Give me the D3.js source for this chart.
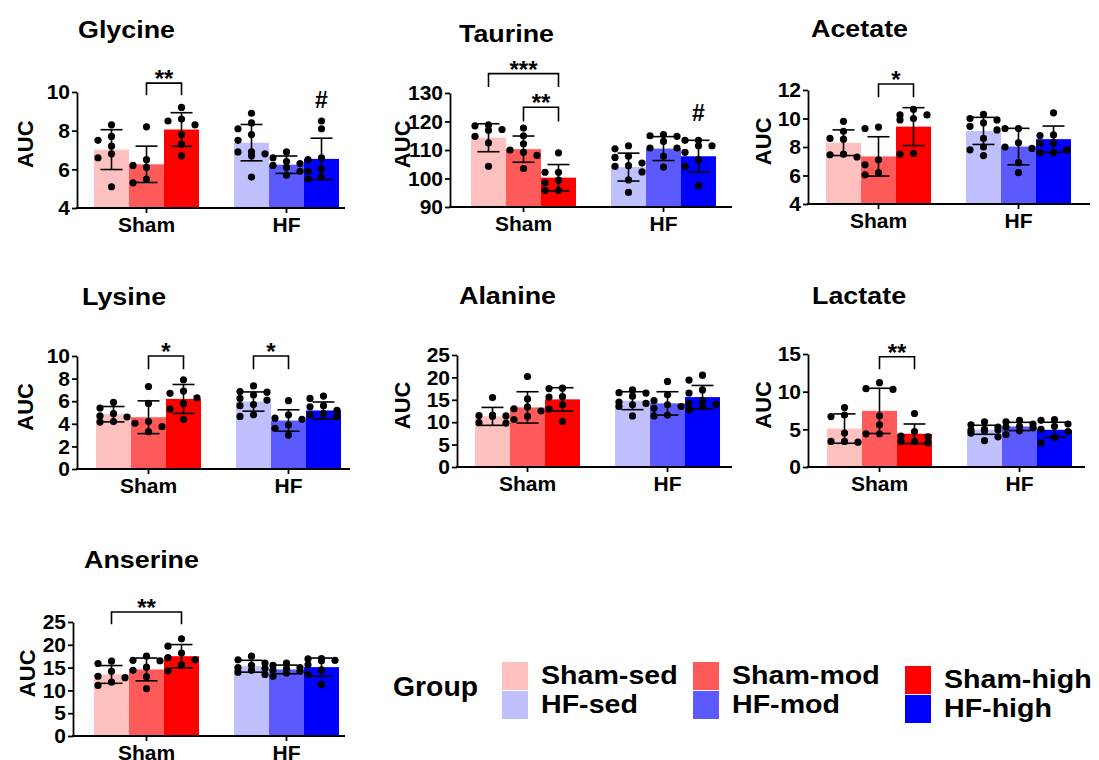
<!DOCTYPE html>
<html>
<head>
<meta charset="utf-8">
<script src="https://cdn.jsdelivr.net/npm/d3@7"></script>
<style>
body{margin:0;background:#fff}
text{font-family:"Liberation Sans",Arial,sans-serif;font-weight:bold;fill:#000}
</style>
</head>
<body>
<svg id="chart" width="1099" height="760"></svg>
<script>
// categories and groups
const categories = ["Sham", "HF"];
const groups = ["Sham-sed", "Sham-mod", "Sham-high", "HF-sed", "HF-mod", "HF-high"];
const groupColors = ["#ffc0c0", "#ff5a5a", "#ff0000", "#c0c0ff", "#5a5aff", "#0000ff"];

// Glycine
const glycineMean = [7.02, 6.26, 8.06, 7.38, 6.24, 6.54];
const glycineSD = [1.03, 0.94, 0.87, 0.94, 0.45, 1.07];
const glycinePts = [
  [8.3, 7.7, 7.5, 7.2, 6.8, 6.6, 5.1],
  [8.2, 6.5, 6.2, 6.1, 5.5, 5.3],
  [9.2, 8.6, 8.5, 8.3, 7.8, 7.3, 6.7],
  [8.9, 8.4, 8.1, 7.8, 7.5, 6.9, 6.8, 6.7, 6.9, 5.6],
  [6.9, 6.6, 6.4, 6.3, 6.2, 6.1, 5.9, 5.7],
  [8.5, 8.1, 6.6, 6.5, 6.0, 5.9, 5.6, 5.5]
];
const glycineTicks = [4, 6, 8, 10];

// Taurine
const taurineMean = [114.3, 110.3, 100.3, 104.0, 110.5, 107.8];
const taurineSD = [4.9, 4.6, 4.6, 4.9, 4.2, 5.6];
const taurinePts = [
  [118.8, 118.5, 117.2, 116.9, 114.8, 112.5, 104.3],
  [117.7, 115.0, 112.2, 109.2, 108.1, 110.0, 103.5],
  [109.0, 102.2, 102.2, 99.4, 98.5, 95.8, 95.8],
  [111.5, 110.4, 107.8, 107.4, 105.4, 104.5, 104.3, 102.3, 95.1, 99.5],
  [115.4, 115.0, 114.8, 113.0, 110.7, 110.7, 107.8, 104.0],
  [113.4, 113.4, 111.5, 111.5, 109.2, 106.6, 104.3, 97.5]
];
const taurineTicks = [90, 100, 110, 120, 130];

// Acetate
const acetateMean = [8.3, 7.34, 9.43, 9.13, 8.03, 8.55];
const acetateSD = [0.9, 1.38, 1.33, 0.95, 1.28, 0.92];
const acetatePts = [
  [9.8, 9.1, 8.6, 8.55, 7.5, 7.45, 7.3],
  [9.3, 9.4, 7.1, 6.75, 6.2, 6.05],
  [10.65, 10.25, 10.25, 10.0, 9.9, 7.55, 7.5],
  [10.3, 10.0, 9.9, 9.7, 9.45, 9.2, 8.6, 8.0, 7.8, 7.4],
  [9.3, 9.3, 8.3, 8.0, 7.9, 6.9, 6.2],
  [10.4, 8.85, 8.8, 8.3, 8.25, 7.8, 7.6, 7.6]
];
const acetateTicks = [4, 6, 8, 10, 12];

// Lysine
const lysineMean = [4.85, 4.58, 6.2, 5.97, 4.29, 5.18];
const lysineSD = [0.68, 1.45, 1.28, 0.85, 0.95, 0.75];
const lysinePts = [
  [5.9, 5.4, 4.9, 4.7, 4.6, 4.2, 4.15],
  [7.3, 5.8, 4.2, 4.05, 3.75, 3.3],
  [7.9, 6.9, 6.7, 6.3, 5.8, 5.3, 4.4],
  [7.35, 6.85, 6.8, 6.55, 6.25, 6.1, 5.7, 5.6, 4.8, 4.65],
  [6.05, 4.8, 4.5, 4.4, 3.9, 3.6, 3.0],
  [6.45, 6.25, 5.6, 5.5, 5.2, 4.9, 4.8, 4.65]
];
const lysineTicks = [0, 2, 4, 6, 8, 10];

// Alanine
const alanineMean = [11.3, 13.3, 15.1, 14.8, 14.2, 15.6];
const alanineSD = [2.0, 3.5, 2.6, 2.0, 2.6, 2.6];
const alaninePts = [
  [15.5, 11.6, 11.5, 11.4, 11.3, 9.9, 9.8],
  [20.2, 15.2, 13.4, 13.0, 12.5, 11.3, 10.6],
  [17.6, 17.5, 15.7, 15.6, 13.9, 12.9, 10.2],
  [17.2, 16.6, 16.5, 15.8, 14.5, 14.2, 13.9, 13.5, 11.4],
  [19.1, 16.1, 14.8, 13.9, 13.5, 13.1, 11.6, 11.4],
  [20.5, 19.4, 17.2, 16.5, 14.8, 14.2, 14.0, 13.5, 12.8]
];
const alanineTicks = [0, 5, 10, 15, 20, 25];

// Lactate
const lactateMean = [5.1, 7.45, 4.41, 4.94, 5.38, 4.94];
const lactateSD = [1.95, 3.0, 1.3, 0.6, 0.55, 1.0];
const lactatePts = [
  [7.9, 6.9, 6.7, 4.5, 3.4, 3.4, 3.3],
  [11.2, 10.4, 10.3, 6.8, 5.6, 4.4, 4.4],
  [7.1, 4.7, 4.1, 4.0, 3.4, 3.4, 3.2],
  [6.0, 5.6, 5.3, 5.0, 4.9, 4.9, 4.8, 4.5, 4.0, 3.5],
  [6.2, 6.0, 5.7, 5.4, 5.3, 5.2, 4.8, 4.3],
  [6.3, 6.2, 5.7, 5.4, 5.0, 4.7, 3.9, 3.2]
];
const lactateTicks = [0, 5, 10, 15];

// Anserine
const anserineMean = [13.5, 14.6, 17.5, 15.3, 14.6, 15.1];
const anserineSD = [1.95, 2.5, 2.55, 1.3, 0.95, 2.0];
const anserinePts = [
  [16.4, 15.9, 14.2, 13.1, 12.8, 11.8, 11.1],
  [17.5, 16.6, 16.5, 15.1, 14.4, 13.0, 10.4],
  [21.3, 19.7, 18.2, 17.2, 16.7, 15.6, 14.3],
  [17.5, 16.7, 16.0, 15.5, 15.0, 14.8, 14.4, 14.0, 13.5],
  [16.0, 15.5, 15.0, 14.8, 14.5, 14.2, 13.8, 13.1],
  [17.0, 16.9, 16.6, 16.5, 15.6, 14.5, 13.6, 11.3]
];
const anserineTicks = [0, 5, 10, 15, 20, 25];

// significance marks (group indices, bracket heights in data units)
const glycineSig = [{a: 1, b: 2, top: 10.46, leg: 9.83, label: "**"}];
const taurineSig = [{a: 0, b: 2, top: 136.8, leg: 132.1, label: "***"},
                    {a: 1, b: 2, top: 125, leg: 120, label: "**"}];
const acetateSig = [{a: 1, b: 2, top: 12.42, leg: 11.49, label: "*"}];
const lysineSig = [{a: 1, b: 2, top: 10, leg: 8.82, label: "*"},
                   {a: 3, b: 4, top: 10, leg: 8.82, label: "*"}];
const lactateSig = [{a: 1, b: 2, top: 14.64, leg: 12.97, label: "**"}];
const anserineSig = [{a: 0, b: 2, top: 27.2, leg: 24.5, label: "**"}];

const panels = [
  {name: "Glycine", mean: glycineMean, sd: glycineSD, pts: glycinePts, ticks: glycineTicks, sig: glycineSig, hash: {g: 5, y: 9.2},
   axisX: 77, top: 92, bottom: 208, barStart: 94, xEnd: 345, titleX: 78, titleY: 38, aucX: 25},
  {name: "Taurine", mean: taurineMean, sd: taurineSD, pts: taurinePts, ticks: taurineTicks, sig: taurineSig, hash: {g: 5, y: 120.6},
   axisX: 450, top: 93, bottom: 207, barStart: 471, xEnd: 732, titleX: 459, titleY: 42, aucX: 402},
  {name: "Acetate", mean: acetateMean, sd: acetateSD, pts: acetatePts, ticks: acetateTicks, sig: acetateSig,
   axisX: 808, top: 90, bottom: 204, barStart: 826, xEnd: 1090, titleX: 811, titleY: 37, aucX: 763},
  {name: "Lysine", mean: lysineMean, sd: lysineSD, pts: lysinePts, ticks: lysineTicks, sig: lysineSig,
   axisX: 77, top: 356, bottom: 469, barStart: 96, xEnd: 350, titleX: 82, titleY: 305, aucX: 25},
  {name: "Alanine", mean: alanineMean, sd: alanineSD, pts: alaninePts, ticks: alanineTicks, sig: [],
   axisX: 457, top: 355, bottom: 467, barStart: 475, xEnd: 732, titleX: 459, titleY: 304, aucX: 402},
  {name: "Lactate", mean: lactateMean, sd: lactateSD, pts: lactatePts, ticks: lactateTicks, sig: lactateSig,
   axisX: 808, top: 354, bottom: 467, barStart: 827, xEnd: 1085, titleX: 812, titleY: 304, aucX: 763},
  {name: "Anserine", mean: anserineMean, sd: anserineSD, pts: anserinePts, ticks: anserineTicks, sig: anserineSig,
   axisX: 73, top: 622, bottom: 736, barStart: 94, xEnd: 345, titleX: 84, titleY: 568, aucX: 27}
];

const svg = d3.select("#chart");

// simple swarm: dots go to centre, left or right column so they don't pile up
function swarm(vals, y, step, minDy) {
  const placed = [];
  const res = new Array(vals.length);
  const order = vals.map((v, i) => i).sort((a, b) => vals[b] - vals[a]);
  const offs = [0, -1, 1];
  order.forEach(i => {
    const py = y(vals[i]);
    const gap = k => d3.min(placed.filter(p => p.k === k), p => Math.abs(p.py - py));
    let o = offs.find(k => { const d = gap(k); return d === undefined || d >= minDy; });
    if (o === undefined) o = offs.reduce((a, b) => (gap(b) > gap(a) ? b : a));
    placed.push({k: o, py: py});
    res[i] = o * step;
  });
  return res;
}

panels.forEach(p => {
  const g = svg.append("g");
  const y = d3.scaleLinear().domain(d3.extent(p.ticks)).range([p.bottom, p.top]);
  const xCat = d3.scaleBand().domain(categories).range([p.barStart, p.barStart + 245]).paddingInner(0.25).paddingOuter(0);
  const xSub = d3.scaleBand().domain([0, 1, 2]).range([0, xCat.bandwidth()]);
  const bw = xSub.bandwidth();
  const barX = i => xCat(categories[Math.floor(i / 3)]) + xSub(i % 3);
  const cx = i => barX(i) + bw / 2;

  // title (the figure's titles are a little wide)
  g.append("text").attr("transform", `translate(${p.titleX},${p.titleY}) scale(1.12,1)`)
    .style("font-size", "24px").text(p.name);

  // AUC
  g.append("text")
    .attr("transform", `translate(${p.aucX},${p.top + 0.45 * (p.bottom - p.top)}) rotate(-90)`)
    .attr("text-anchor", "middle").attr("dy", "0.36em")
    .style("font-size", "22px").text("AUC");

  // bars
  g.selectAll("rect.bar").data(p.mean).enter().append("rect")
    .attr("class", "bar")
    .attr("x", (d, i) => barX(i))
    .attr("width", bw)
    .attr("y", d => y(d))
    .attr("height", d => p.bottom - y(d))
    .attr("fill", (d, i) => groupColors[i]);

  // dots
  p.pts.forEach((vals, i) => {
    const offs = swarm(vals, y, 13.5, 7.5);
    g.selectAll(null).data(vals).enter().append("circle")
      .attr("cx", (d, j) => cx(i) + offs[j])
      .attr("cy", d => y(d))
      .attr("r", 3.6)
      .attr("fill", "#000");
  });

  // error bars
  const eb = g.selectAll("g.err").data(p.mean).enter().append("g")
    .attr("stroke", "#000").attr("stroke-width", 1.6);
  eb.append("line")
    .attr("x1", (d, i) => cx(i)).attr("x2", (d, i) => cx(i))
    .attr("y1", (d, i) => y(d + p.sd[i])).attr("y2", (d, i) => y(d - p.sd[i]));
  eb.append("line")
    .attr("x1", (d, i) => cx(i) - 11).attr("x2", (d, i) => cx(i) + 11)
    .attr("y1", (d, i) => y(d + p.sd[i])).attr("y2", (d, i) => y(d + p.sd[i]));
  eb.append("line")
    .attr("x1", (d, i) => cx(i) - 11).attr("x2", (d, i) => cx(i) + 11)
    .attr("y1", (d, i) => y(d - p.sd[i])).attr("y2", (d, i) => y(d - p.sd[i]));

  // y axis
  const ya = g.append("g").attr("transform", `translate(${p.axisX},0)`)
    .call(d3.axisLeft(y).tickValues(p.ticks).tickFormat(d3.format("d"))
      .tickSize(5).tickSizeOuter(0).tickPadding(2));
  ya.select(".domain").attr("stroke-width", 1.8);
  ya.selectAll(".tick line").attr("stroke-width", 1.8);
  ya.selectAll(".tick text").style("font-size", "21px")
    .style("font-family", "'Liberation Sans',Arial,sans-serif").style("font-weight", "bold");

  // x axis
  g.append("line").attr("x1", p.axisX - 1).attr("x2", p.xEnd)
    .attr("y1", p.bottom).attr("y2", p.bottom)
    .attr("stroke", "#000").attr("stroke-width", 1.8);
  categories.forEach(c => {
    const mx = xCat(c) + xCat.bandwidth() / 2;
    g.append("line").attr("x1", mx).attr("x2", mx)
      .attr("y1", p.bottom).attr("y2", p.bottom + 5)
      .attr("stroke", "#000").attr("stroke-width", 1.8);
    g.append("text").attr("x", mx).attr("y", p.bottom + 24)
      .attr("text-anchor", "middle").style("font-size", "21px").text(c);
  });

  // significance brackets
  p.sig.forEach(s => {
    const x1 = cx(s.a), x2 = cx(s.b);
    g.append("path")
      .attr("d", `M${x1},${y(s.leg)}V${y(s.top)}H${x2}V${y(s.leg)}`)
      .attr("fill", "none").attr("stroke", "#000").attr("stroke-width", 1.6);
    g.append("text").attr("x", (x1 + x2) / 2).attr("y", y(s.top) + 4)
      .attr("text-anchor", "middle").style("font-size", "24px").text(s.label);
  });
  if (p.hash) {
    g.append("text").attr("x", cx(p.hash.g)).attr("y", y(p.hash.y) + 1)
      .attr("text-anchor", "middle").style("font-size", "23px").text("#");
  }
});

// legend
const legend = svg.append("g");
legend.append("text").attr("transform", "translate(393,696) scale(1.05,1)")
  .style("font-size", "27px").text("Group");
const legCols = [{x: 502, y: 662}, {x: 693, y: 662}, {x: 905, y: 666}];
groups.forEach((name, i) => {
  const col = legCols[i % 3];
  const row = Math.floor(i / 3);
  const sy = col.y + row * 29;
  legend.append("rect").attr("x", col.x).attr("y", sy).attr("width", 26).attr("height", 28)
    .attr("fill", groupColors[i]);
  legend.append("text").attr("transform", `translate(${col.x + 39},${sy + 22}) scale(1.1,1)`)
    .style("font-size", "26px").text(name);
});
</script>
</body>
</html>
